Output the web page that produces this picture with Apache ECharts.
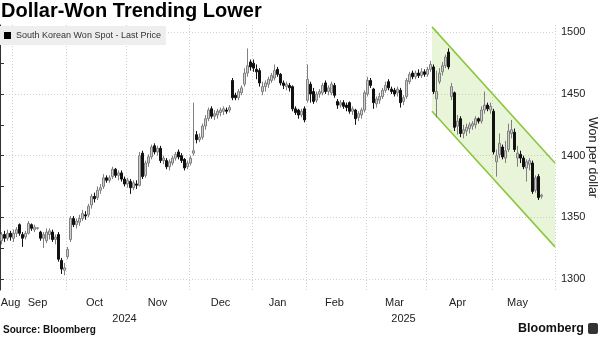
<!DOCTYPE html>
<html>
<head>
<meta charset="utf-8">
<script src="https://cdn.jsdelivr.net/npm/echarts@6/dist/echarts.min.js"></script>
<style>
  html, body { margin: 0; padding: 0; background: #fff; }
  #chart { width: 611px; height: 353px; }
</style>
</head>
<body>
<div id="chart"></div>
<script>
// trading days shown on the category axis, per month
const tradingDays = [
  ['2024-08', [27, 28, 29, 30]],
  ['2024-09', [2, 3, 4, 5, 6, 9, 10, 11, 12, 13, 19, 20, 23, 24, 25, 26, 27, 30]],
  ['2024-10', [2, 4, 7, 8, 10, 11, 14, 15, 16, 17, 18, 21, 22, 23, 24, 25, 28, 29, 30, 31]],
  ['2024-11', [1, 4, 5, 6, 7, 8, 11, 12, 13, 14, 15, 18, 19, 20, 21, 22, 25, 26, 27, 28, 29]],
  ['2024-12', [2, 3, 4, 5, 6, 9, 10, 11, 12, 13, 16, 17, 18, 19, 20, 23, 24, 26, 27, 30, 31]],
  ['2025-01', [2, 3, 6, 7, 8, 9, 10, 13, 14, 15, 16, 17, 20, 21, 22, 23, 24, 31]],
  ['2025-02', [3, 4, 5, 6, 7, 10, 11, 12, 13, 14, 17, 18, 19, 20, 21, 24, 25, 26, 27, 28]],
  ['2025-03', [4, 5, 6, 7, 10, 11, 12, 13, 14, 17, 18, 19, 20, 21, 24, 25, 26, 27, 28, 31]],
  ['2025-04', [1, 2, 3, 4, 7, 8, 9, 10, 11, 14, 15, 16, 17, 18, 21, 22, 23, 24, 25, 28, 29, 30]],
  ['2025-05', [1, 2, 7, 8, 9, 12, 13, 14, 15, 16, 19, 20, 21, 22, 23, 26, 27]]
]
const padDays = 4 // empty slots after the last candle

// [open, close, low, high]
const ohlc = [
  // Aug
  [1331, 1336, 1328, 1338], [1336, 1333, 1330, 1339], [1333, 1337, 1331, 1340], [1337, 1334, 1331, 1339],
  // Sep
  [1333, 1337, 1330, 1340], [1337, 1340, 1334, 1342], [1344, 1337, 1335, 1345], [1336, 1333, 1326, 1338],
  [1334, 1337, 1332, 1339], [1337, 1345, 1336, 1347], [1344, 1341, 1339, 1345], [1340, 1342, 1338, 1344],
  [1341, 1341.5, 1340, 1342], [1338, 1333, 1331, 1339], [1333, 1336, 1325, 1338], [1331, 1338, 1329, 1341],
  [1336, 1339, 1332, 1341], [1338, 1332, 1330, 1340], [1332, 1334, 1328, 1336], [1336, 1316, 1314, 1338],
  [1315, 1308, 1304, 1317], [1307, 1309, 1303, 1313],
  // Oct
  [1318, 1324, 1316, 1326], [1332, 1349, 1330, 1351], [1349, 1344, 1342, 1351], [1344, 1347, 1341, 1349],
  [1346, 1349, 1343, 1352], [1349, 1353, 1347, 1356], [1352, 1351, 1348, 1355], [1352, 1359, 1350, 1361],
  [1360, 1367, 1357, 1369], [1367, 1365, 1362, 1370], [1366, 1372, 1364, 1375], [1372, 1374, 1369, 1377],
  [1375, 1382, 1373, 1385], [1382, 1380, 1378, 1384], [1380, 1382, 1378, 1384], [1383, 1389, 1381, 1391],
  [1389, 1384, 1382, 1390], [1384, 1386, 1380, 1388], [1386, 1381, 1379, 1388], [1381, 1377, 1375, 1383],
  // Nov
  [1377, 1380, 1374, 1382], [1379, 1374, 1369, 1381], [1374, 1378, 1372, 1380], [1377, 1376, 1373, 1380],
  [1376, 1400, 1375, 1403], [1402, 1383, 1381, 1404], [1384, 1394, 1382, 1396], [1394, 1399, 1391, 1401],
  [1399, 1407, 1397, 1409], [1408, 1403, 1401, 1410], [1403, 1406, 1400, 1408], [1406, 1396, 1394, 1408],
  [1396, 1398, 1393, 1400], [1396, 1391, 1389, 1398], [1391, 1395, 1388, 1397], [1394, 1398, 1392, 1400],
  [1398, 1401, 1396, 1403], [1403, 1399, 1397, 1405], [1400, 1396, 1394, 1402], [1397, 1390, 1388, 1398],
  [1391, 1394, 1389, 1396],
  // Dec
  [1394, 1398, 1392, 1400], [1402, 1404, 1400, 1443], [1417, 1413, 1410, 1420], [1413, 1415, 1411, 1418],
  [1415, 1424, 1413, 1426], [1424, 1430, 1421, 1433], [1430, 1437, 1428, 1439], [1438, 1432, 1430, 1440],
  [1432, 1434, 1429, 1437], [1433, 1436, 1430, 1438], [1435, 1437, 1432, 1439], [1436, 1438, 1433, 1440],
  [1437, 1436, 1434, 1439], [1437, 1439, 1435, 1441], [1461, 1447, 1445, 1463], [1449, 1447, 1445, 1451],
  [1447, 1452, 1445, 1454], [1451, 1455, 1449, 1457], [1458, 1467, 1456, 1471], [1467, 1473, 1464, 1487],
  [1476, 1472, 1469, 1478],
  // Jan
  [1475, 1471, 1468, 1478], [1470, 1468, 1462, 1474], [1469, 1459, 1456, 1471], [1452, 1456, 1449, 1460],
  [1456, 1459, 1452, 1461], [1458, 1462, 1455, 1464], [1461, 1465, 1459, 1467], [1463, 1469, 1461, 1474],
  [1470, 1466, 1464, 1472], [1466, 1459, 1457, 1467], [1459, 1457, 1454, 1461], [1456, 1458, 1453, 1460],
  [1457, 1455, 1452, 1459], [1456, 1438, 1436, 1457], [1438, 1435, 1433, 1440], [1437, 1433, 1430, 1438],
  [1433, 1436, 1431, 1438], [1438, 1429, 1427, 1440],
  // Feb
  [1445, 1462, 1443, 1474], [1458, 1450, 1443, 1460], [1452, 1444, 1442, 1455], [1445, 1450, 1443, 1452],
  [1450, 1452, 1447, 1454], [1451, 1457, 1449, 1459], [1459, 1452, 1450, 1461], [1452, 1455, 1449, 1457],
  [1451, 1458, 1449, 1460], [1457, 1449, 1447, 1459], [1444, 1441, 1438, 1446], [1441, 1443, 1439, 1445],
  [1443, 1440, 1438, 1445], [1441, 1439, 1436, 1443], [1443, 1436, 1434, 1444], [1436, 1438, 1433, 1440],
  [1437, 1430, 1425, 1438], [1431, 1434, 1428, 1436], [1433, 1437, 1430, 1439], [1437, 1451, 1435, 1453],
  // Mar
  [1450, 1461, 1448, 1464], [1461, 1457, 1455, 1463], [1454, 1443, 1438, 1455], [1442, 1446, 1439, 1448],
  [1445, 1448, 1442, 1451], [1448, 1453, 1446, 1455], [1453, 1457, 1451, 1460], [1460, 1455, 1453, 1462],
  [1454, 1452, 1450, 1456], [1453, 1450, 1448, 1455], [1451, 1454, 1448, 1456], [1453, 1443, 1439, 1455],
  [1444, 1447, 1441, 1449], [1448, 1461, 1446, 1463], [1460, 1466, 1458, 1468], [1467, 1464, 1462, 1469],
  [1464, 1467, 1462, 1469], [1467, 1465, 1463, 1470], [1465, 1468, 1463, 1471], [1468, 1466, 1464, 1470],
  // Apr
  [1466, 1470, 1464, 1472], [1470, 1474, 1468, 1477], [1472, 1452, 1450, 1474], [1446, 1452, 1431, 1469],
  [1460, 1467, 1458, 1471], [1468, 1473, 1465, 1476], [1473, 1480, 1471, 1482], [1484, 1472, 1470, 1487],
  [1448, 1456, 1445, 1459], [1451, 1423, 1420, 1452], [1424, 1428, 1417, 1433], [1430, 1418, 1415, 1432],
  [1418, 1421, 1414, 1425], [1420, 1423, 1416, 1426], [1422, 1425, 1418, 1427], [1424, 1426, 1421, 1428],
  [1425, 1430, 1422, 1432], [1430, 1428, 1426, 1431], [1428, 1437, 1426, 1440], [1437, 1441, 1434, 1452],
  [1441, 1438, 1436, 1443], [1437, 1440, 1434, 1443],
  // May
  [1436, 1403, 1401, 1438], [1395, 1400, 1383, 1405], [1401, 1410, 1398, 1418], [1407, 1399, 1397, 1409],
  [1398, 1404, 1394, 1412], [1405, 1420, 1403, 1426], [1418, 1421, 1414, 1429], [1419, 1405, 1403, 1422],
  [1398, 1402, 1391, 1408], [1401, 1398, 1394, 1404], [1398, 1391, 1389, 1400], [1390, 1395, 1379, 1397],
  [1393, 1396, 1388, 1398], [1394, 1371, 1369, 1396], [1372, 1382, 1370, 1384], [1383, 1366, 1364, 1385],
  [1367, 1368, 1365, 1369]
]

// trend channel drawn on the chart: [day slot, won per dollar]
const channelUpper = [[144, 1504.5], [185, 1394]]
const channelLower = [[144, 1436], [185, 1326]]

const yTickValues = [1300, 1325, 1350, 1375, 1400, 1425, 1450, 1475, 1500]
const yLabelValues = [1300, 1350, 1400, 1450, 1500]
const monthNames = ['Jan', 'Feb', 'Mar', 'Apr', 'May', 'Jun', 'Jul', 'Aug', 'Sep', 'Oct', 'Nov', 'Dec']

const FONT = 'Liberation Sans, Arial, sans-serif'

// category slots, month boundaries and label slots
const dates = []
const years = []
const monthStart = {}
const monthLabelAt = {}
tradingDays.forEach(([ym, days], m) => {
  const first = dates.length
  days.forEach(d => {
    dates.push(ym + '-' + String(d).padStart(2, '0'))
    years.push(ym.slice(0, 4))
  })
  const last = dates.length - 1
  if (m > 0) monthStart[first] = true
  const at = m === 0 ? last : Math.floor((first + last) / 2)
  monthLabelAt[at] = monthNames[+ym.slice(5) - 1]
})
for (let i = 0; i < padDays; i++) {
  dates.push('')
  years.push(years[years.length - 1])
}
const yearLabelAt = {}
let ys = 0
for (let i = 1; i <= years.length; i++) {
  if (i === years.length || years[i] !== years[ys]) {
    yearLabelAt[Math.floor((ys + i - 1) / 2)] = years[ys]
    ys = i
  }
}

const chart = echarts.init(document.getElementById('chart'))
chart.setOption({
  animation: false,
  title: {
    text: 'Dollar-Won Trending Lower',
    left: 1,
    top: 1,
    padding: 0,
    textStyle: { fontFamily: FONT, fontSize: 20, fontWeight: 'bold', color: '#000' }
  },
  legend: {
    left: 0,
    top: 26,
    padding: [5, 5, 5, 4],
    backgroundColor: '#eeeeee',
    selectedMode: false,
    icon: 'rect',
    itemWidth: 7,
    itemHeight: 7,
    itemGap: 4,
    itemStyle: { color: '#000', borderWidth: 0 },
    textStyle: { fontFamily: FONT, fontSize: 9, color: '#333' },
    data: ['South Korean Won Spot - Last Price']
  },
  grid: { left: 0, right: 56, top: 25, bottom: 63, containLabel: false, outerBoundsMode: 'none' },
  xAxis: [
    {
      type: 'category',
      data: dates,
      boundaryGap: true,
      axisLine: { show: false },
      axisTick: { show: false },
      splitLine: {
        show: true,
        interval: (idx) => !!monthStart[idx],
        lineStyle: { color: '#d0d0d0', type: [1, 2], width: 1 }
      },
      axisLabel: {
        interval: (idx) => monthLabelAt[idx] !== undefined,
        formatter: (v, idx) => monthLabelAt[idx] || '',
        margin: 7,
        fontFamily: FONT,
        fontSize: 11,
        color: '#222'
      }
    },
    {
      type: 'category',
      data: dates,
      position: 'bottom',
      offset: 16,
      axisLine: { show: false },
      axisTick: { show: false },
      splitLine: { show: false },
      axisLabel: {
        interval: (idx) => yearLabelAt[idx] !== undefined,
        formatter: (v, idx) => yearLabelAt[idx] || '',
        margin: 7,
        fontFamily: FONT,
        fontSize: 11,
        color: '#222'
      }
    },
    { type: 'value', min: 0, max: dates.length, show: false }
  ],
  yAxis: {
    type: 'value',
    position: 'right',
    min: 1291,
    max: 1506,
    axisLine: { show: true, lineStyle: { color: '#333', width: 1 } },
    axisTick: { show: true, customValues: yTickValues, length: 4, lineStyle: { color: '#333' } },
    axisLabel: {
      customValues: yLabelValues,
      formatter: (v) => String(v),
      margin: 6,
      fontFamily: FONT,
      fontSize: 11,
      color: '#222'
    },
    splitLine: { show: false },
    name: 'Won per dollar',
    nameLocation: 'middle',
    nameRotate: -90,
    nameGap: 31,
    nameMoveOverlap: false,
    nameTextStyle: { fontFamily: FONT, fontSize: 12.5, color: '#222' }
  },
  graphic: [
    {
      type: 'text', left: 3, top: 325,
      style: { text: 'Source: Bloomberg', font: 'bold 10px ' + FONT, fill: '#111' }
    },
    {
      type: 'text', right: 27, top: 322,
      style: { text: 'Bloomberg', font: 'bold 12.5px ' + FONT, fill: '#111' }
    },
    {
      type: 'rect', right: 13, top: 323,
      shape: { width: 10, height: 11, r: 2 },
      style: { fill: '#333' }
    }
  ],
  series: [
    {
      type: 'custom',
      xAxisIndex: 2,
      yAxisIndex: 0,
      silent: true,
      z: 1,
      data: [[0, 1400]],
      renderItem: (params, api) => {
        const p = [
          api.coord(channelUpper[0]), api.coord(channelUpper[1]),
          api.coord(channelLower[1]), api.coord(channelLower[0])
        ]
        const edge = { stroke: '#8cc63f', lineWidth: 1.6 }
        return {
          type: 'group',
          children: [
            { type: 'polygon', shape: { points: p }, style: { fill: 'rgba(160,212,90,0.24)' } },
            { type: 'line', shape: { x1: p[0][0], y1: p[0][1], x2: p[1][0], y2: p[1][1] }, style: edge },
            { type: 'line', shape: { x1: p[3][0], y1: p[3][1], x2: p[2][0], y2: p[2][1] }, style: edge }
          ]
        }
      }
    },
    {
      name: 'South Korean Won Spot - Last Price',
      type: 'candlestick',
      xAxisIndex: 0,
      yAxisIndex: 0,
      data: ohlc,
      barWidth: 2.4,
      z: 3,
      itemStyle: {
        color: '#cfcfcf',
        color0: '#111111',
        borderColor: '#808080',
        borderColor0: '#111111',
        borderWidth: 1
      },
      markLine: {
        silent: true,
        z: 0,
        symbol: 'none',
        label: { show: false },
        lineStyle: { color: '#d0d0d0', type: [1, 2], width: 1 },
        data: yLabelValues.map(v => ({ yAxis: v }))
      }
    }
  ]
})
</script>
</body>
</html>
